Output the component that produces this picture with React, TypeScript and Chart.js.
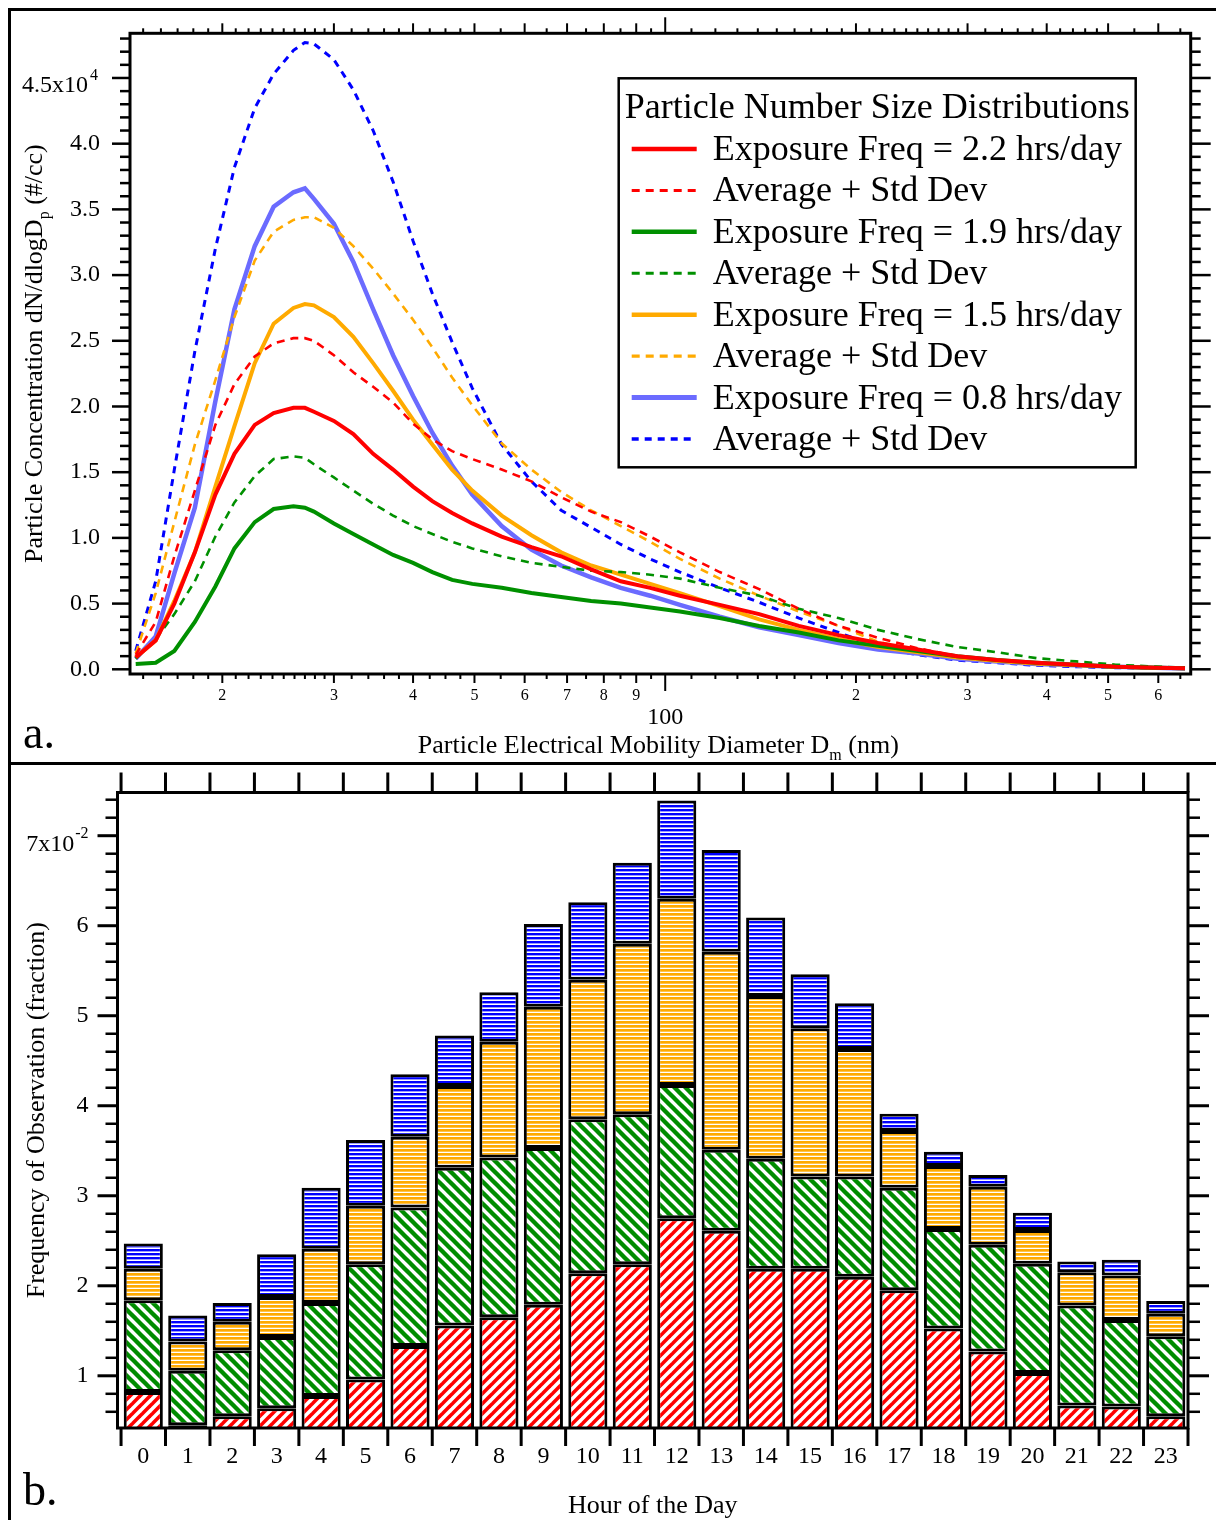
import React, { useEffect, useRef } from 'react';
import { Chart, registerables } from 'chart.js';

Chart.register(...registerables);

const FONT = '"Liberation Serif", "Times New Roman", serif';

// ---------------- Panel a: particle number size distributions ----------------
const diameters = [14.6, 15.7, 16.8, 18.1, 19.5, 20.9, 22.5, 24.1, 25.9, 27.0, 27.9, 30.0, 32.2, 34.6, 37.2, 40.0, 42.9, 46.1, 49.6, 55.2, 61.5, 68.5, 76.4, 85.1, 94.7, 105.5, 121.9, 140.7, 162.5, 187.7, 216.7, 250.3, 289.0, 333.8, 385.4, 445.1, 514.0, 593.5, 661.2];
const freq22 = [900, 2200, 5000, 8900, 13300, 16400, 18600, 19500, 19900, 19900, 19600, 18900, 17900, 16400, 15200, 13900, 12800, 11900, 11100, 10100, 9300, 8600, 7600, 6700, 6200, 5600, 4900, 4200, 3300, 2600, 2000, 1500, 1000, 700, 500, 350, 200, 120, 80];
const freq22Sd = [1100, 3600, 8600, 13600, 18600, 21700, 23800, 24800, 25200, 25200, 25000, 23900, 22600, 21500, 20300, 18700, 17500, 16600, 16000, 15200, 14300, 13100, 12000, 11200, 10100, 8900, 7400, 6100, 4600, 3300, 2400, 1600, 1000, 700, 500, 300, 200, 120, 80];
const freq19 = [400, 500, 1400, 3600, 6300, 9200, 11200, 12200, 12400, 12300, 12000, 11100, 10300, 9500, 8700, 8100, 7400, 6800, 6500, 6200, 5800, 5500, 5200, 5000, 4700, 4400, 3900, 3300, 2800, 2200, 1800, 1400, 1000, 700, 500, 350, 200, 120, 80];
const freq19Sd = [800, 2300, 4200, 6700, 10100, 12700, 14700, 16000, 16200, 16100, 15600, 14600, 13600, 12600, 11700, 10900, 10300, 9700, 9200, 8600, 8100, 7800, 7500, 7400, 7200, 6900, 6200, 5600, 4600, 3900, 3000, 2300, 1700, 1300, 850, 600, 350, 200, 120];
const freq15 = [900, 2200, 5200, 8900, 13900, 18500, 23300, 26300, 27500, 27800, 27700, 26800, 25300, 23300, 21200, 19000, 17100, 15200, 13600, 11700, 10200, 8900, 7900, 7200, 6500, 5800, 4800, 3800, 3000, 2300, 1700, 1300, 900, 650, 450, 330, 200, 120, 80];
const freq15Sd = [1200, 5800, 11200, 17100, 22000, 26800, 31100, 33300, 34200, 34400, 34400, 33600, 32200, 30500, 28600, 26600, 24500, 22200, 20100, 17200, 15200, 13500, 12100, 10900, 9700, 8400, 6900, 5600, 4400, 3300, 2100, 1400, 900, 600, 400, 250, 150, 100, 70];
const freq08 = [800, 2500, 7300, 12300, 20400, 27400, 32200, 35200, 36300, 36600, 35800, 33900, 31000, 27400, 23900, 20800, 18000, 15500, 13300, 10900, 9100, 7900, 7000, 6200, 5600, 4900, 4000, 3200, 2600, 2000, 1500, 1200, 800, 600, 400, 300, 200, 120, 60];
const freq08Sd = [1400, 6700, 15200, 24200, 32000, 38200, 42700, 45300, 47100, 47700, 47600, 46400, 44100, 41000, 37100, 32600, 28600, 24900, 21400, 17100, 14300, 12100, 10800, 9500, 8400, 7400, 6200, 5100, 3900, 2800, 1700, 1100, 700, 500, 300, 200, 120, 80, 50];

const seriesLabelsA = ['Exposure Freq = 2.2 hrs/day', 'Average + Std Dev', 'Exposure Freq = 1.9 hrs/day', 'Average + Std Dev', 'Exposure Freq = 1.5 hrs/day', 'Average + Std Dev', 'Exposure Freq = 0.8 hrs/day', 'Average + Std Dev'];
const legendTitleA = 'Particle Number Size Distributions';

// axis ticks of panel a
const xLabelTicksA = [20, 30, 40, 50, 60, 70, 80, 90, 100, 200, 300, 400, 500, 600];
const xMinorTicksA = [15, 16, 17, 18, 19, 21, 22, 23, 24, 25, 26, 27, 28, 29, 32, 34, 36, 38, 42.5, 45, 47.5, 55, 65, 75, 85, 95, 110, 120, 130, 140, 150, 160, 170, 180, 190, 210, 220, 230, 240, 250, 260, 270, 280, 290, 320, 340, 360, 380, 420, 440, 460, 480, 550, 650];
const yLabelTicksA = [0, 5000, 10000, 15000, 20000, 25000, 30000, 35000, 40000, 45000];
const yMinorTicksA: number[] = [];
for (let k = 1; k <= 48; k++) if (k % 5 !== 0) yMinorTicksA.push(k * 1000);

// ---------------- Panel b: hour-of-day frequency ----------------
const hours = [0, 1, 2, 3, 4, 5, 6, 7, 8, 9, 10, 11, 12, 13, 14, 15, 16, 17, 18, 19, 20, 21, 22, 23];
const obs22 = [0.0082, 0.0045, 0.0055, 0.0064, 0.00775, 0.0096, 0.0133, 0.0156, 0.0165, 0.0179, 0.0214, 0.0224, 0.0275, 0.0261, 0.0219, 0.0219, 0.0210, 0.0195, 0.01525, 0.0127, 0.0103, 0.0067, 0.0066, 0.0055];
const obs19 = [0.0102, 0.00605, 0.00735, 0.0079, 0.01035, 0.0128, 0.0154, 0.0175, 0.01775, 0.0174, 0.0171, 0.01665, 0.0148, 0.0090, 0.0122, 0.01025, 0.01115, 0.0114, 0.01105, 0.01185, 0.01215, 0.0111, 0.0096, 0.0089];
const obs15 = [0.0035, 0.00325, 0.00315, 0.00445, 0.0060, 0.0065, 0.00785, 0.0091, 0.01285, 0.0157, 0.0155, 0.01895, 0.0207, 0.0220, 0.0181, 0.01645, 0.01415, 0.0063, 0.0070, 0.00645, 0.00375, 0.0037, 0.00495, 0.0025];
const obs08 = [0.0028, 0.0029, 0.0021, 0.00475, 0.0068, 0.0073, 0.00695, 0.0056, 0.0055, 0.0092, 0.0086, 0.0090, 0.0109, 0.0113, 0.0087, 0.0060, 0.0051, 0.0019, 0.0016, 0.0013, 0.0019, 0.0012, 0.00175, 0.0014];
const barLabelsB = ['Exposure Freq = 2.2 hrs/day', 'Exposure Freq = 1.9 hrs/day', 'Exposure Freq = 1.5 hrs/day', 'Exposure Freq = 0.8 hrs/day'];

const yLabelTicksB = [0.01, 0.02, 0.03, 0.04, 0.05, 0.06, 0.07];
const yMinorTicksB: number[] = [];
for (let k = 6; k <= 74; k += 2) if (k % 10 !== 0) yMinorTicksB.push(k / 1000);
const xBoundsB = hours.map((h) => h - 0.5).concat([23.5]);

// ---------------- helpers ----------------
type Part = { t: string; s?: 'sub' | 'sup' };
function drawRich(ctx: CanvasRenderingContext2D, parts: Part[], px: number, py: number, size: number, rotate: boolean) {
  ctx.save();
  ctx.translate(px, py);
  if (rotate) ctx.rotate(-Math.PI / 2);
  const f = (p: Part) => `${p.s ? Math.round(size * 0.62) : size}px ${FONT}`;
  let total = 0;
  const ws = parts.map((p) => { ctx.font = f(p); const w = ctx.measureText(p.t).width; total += w; return w; });
  let xx = -total / 2;
  ctx.textAlign = 'left';
  ctx.textBaseline = 'alphabetic';
  ctx.fillStyle = '#000';
  parts.forEach((p, i) => {
    ctx.font = f(p);
    const dy = p.s === 'sub' ? size * 0.28 : p.s === 'sup' ? -size * 0.42 : 0;
    ctx.fillText(p.t, xx, dy);
    xx += ws[i];
  });
  ctx.restore();
}
function seg(ctx: CanvasRenderingContext2D, x1: number, y1: number, x2: number, y2: number) {
  ctx.beginPath(); ctx.moveTo(x1, y1); ctx.lineTo(x2, y2); ctx.stroke();
}
function diagPattern(color: string, size: number, lw: number, forward: boolean) {
  const c = document.createElement('canvas'); c.width = size; c.height = size;
  const g = c.getContext('2d')!;
  g.fillStyle = '#fff'; g.fillRect(0, 0, size, size);
  g.strokeStyle = color; g.lineWidth = lw;
  for (const k of [-1, 0, 1, 2]) {
    g.beginPath();
    if (forward) { g.moveTo(k * size + size, -size); g.lineTo(k * size - 2 * size, 2 * size); }
    else { g.moveTo(k * size - size, -size); g.lineTo(k * size + 2 * size, 2 * size); }
    g.stroke();
  }
  return g.createPattern(c, 'repeat')!;
}
function horizPattern(color: string, period: number, band: number) {
  const c = document.createElement('canvas'); c.width = 8; c.height = period;
  const g = c.getContext('2d')!;
  g.fillStyle = '#fff'; g.fillRect(0, 0, 8, period);
  g.fillStyle = color; g.fillRect(0, 0, 8, band);
  return g.createPattern(c, 'repeat')!;
}

function makeChartA(canvas: HTMLCanvasElement) {
  const styles = [
    { c: '#ff0000', w: 4, d: [] as number[] },
    { c: '#ff0000', w: 2.6, d: [8, 6] },
    { c: '#009000', w: 4, d: [] },
    { c: '#009000', w: 2.6, d: [8, 6] },
    { c: '#ffaa00', w: 4, d: [] },
    { c: '#ffaa00', w: 2.6, d: [8, 6] },
    { c: '#6b6bff', w: 4.5, d: [] },
    { c: '#0000ff', w: 3, d: [7, 6] },
  ];
  const values = [freq22, freq22Sd, freq19, freq19Sd, freq15, freq15Sd, freq08, freq08Sd];
  const datasets = values.map((vals, i) => ({
    label: seriesLabelsA[i],
    data: diameters.map((d, j) => ({ x: d, y: vals[j] })),
    borderColor: styles[i].c,
    borderWidth: styles[i].w,
    borderDash: styles[i].d,
    pointRadius: 0,
    tension: 0,
    fill: false,
  }));

  const decor = {
    id: 'decorA',
    afterDraw(chart: any) {
      const { ctx, chartArea: ca } = chart;
      const xs = chart.scales.x, ys = chart.scales.y;
      ctx.save();
      ctx.strokeStyle = '#000';
      ctx.lineWidth = 2.5;
      yLabelTicksA.forEach((v) => { const p = ys.getPixelForValue(v); seg(ctx, ca.left, p, ca.left - 18, p); seg(ctx, ca.right, p, ca.right + 20, p); });
      yMinorTicksA.forEach((v) => { const p = ys.getPixelForValue(v); seg(ctx, ca.left, p, ca.left - 10, p); seg(ctx, ca.right, p, ca.right + 10, p); });
      ctx.lineWidth = 2;
      xLabelTicksA.forEach((v) => { const p = xs.getPixelForValue(v); seg(ctx, p, ca.bottom, p, ca.bottom + (v === 100 ? 17 : 9)); seg(ctx, p, ca.top, p, ca.top - (v === 100 ? 16 : 10)); });
      xMinorTicksA.forEach((v) => { const p = xs.getPixelForValue(v); seg(ctx, p, ca.bottom, p, ca.bottom + 5); seg(ctx, p, ca.top, p, ca.top - 5); });
      ctx.lineWidth = 3;
      ctx.strokeRect(ca.left, ca.top, ca.right - ca.left, ca.bottom - ca.top);

      // top tick label with exponent
      const p45 = ys.getPixelForValue(45000);
      ctx.fillStyle = '#000';
      ctx.textAlign = 'right';
      ctx.textBaseline = 'alphabetic';
      ctx.font = `16px ${FONT}`;
      ctx.fillText('4', ca.left - 32, p45 + 2);
      ctx.font = `24px ${FONT}`;
      ctx.fillText('4.5x10', ca.left - 42, p45 + 14);

      // legend
      const bw = 517, bh = 389;
      const bx = ca.right - 55 - bw, by = ca.top + 45;
      ctx.fillStyle = '#fff';
      ctx.fillRect(bx, by, bw, bh);
      ctx.lineWidth = 2.5;
      ctx.strokeRect(bx, by, bw, bh);
      ctx.fillStyle = '#000';
      ctx.font = `36px ${FONT}`;
      ctx.textAlign = 'center';
      ctx.fillText(legendTitleA, bx + bw / 2, by + 40);
      ctx.textAlign = 'left';
      chart.data.datasets.forEach((ds: any, i: number) => {
        const ly = by + 70.7 + i * 41.43;
        ctx.save();
        ctx.strokeStyle = ds.borderColor;
        ctx.lineWidth = ds.borderWidth + 0.5;
        ctx.setLineDash(ds.borderDash || []);
        seg(ctx, bx + 13, ly, bx + 78, ly);
        ctx.restore();
        ctx.fillText(ds.label, bx + 94, ly + 11);
      });

      // axis titles
      drawRich(ctx, [{ t: 'Particle Concentration dN/dlogD' }, { t: 'p', s: 'sub' }, { t: ' (#/cc)' }], 31, (ca.top + ca.bottom) / 2, 26, true);
      drawRich(ctx, [{ t: 'Particle Electrical Mobility Diameter D' }, { t: 'm', s: 'sub' }, { t: ' (nm)' }], (ca.left + ca.right) / 2 - 2, 742, 26, false);

      // panel letter
      ctx.font = `46px ${FONT}`;
      ctx.textAlign = 'left';
      ctx.fillText('a.', 12, 737);
      ctx.restore();
    },
  };

  return new Chart(canvas, {
    type: 'line',
    data: { datasets } as any,
    options: {
      animation: false,
      responsive: false,
      devicePixelRatio: 1,
      events: [],
      layout: { padding: { left: 0, right: 25.3, top: 22.3, bottom: 0 } },
      plugins: { legend: { display: false }, tooltip: { enabled: false } },
      scales: {
        x: {
          type: 'logarithmic',
          min: 14.3,
          max: 675,
          grid: { display: false, drawTicks: true, tickLength: 12 },
          border: { display: false },
          afterBuildTicks: (s: any) => { s.ticks = xLabelTicksA.map((v) => ({ value: v })); },
          afterFit: (s: any) => { s.height = 88; },
          ticks: {
            autoSkip: false,
            maxRotation: 0,
            minRotation: 0,
            padding: 0,
            color: '#000',
            font: (c: any) => (c.tick && c.tick.value === 100 ? { family: FONT, size: 24, lineHeight: 0.87 } : { family: FONT, size: 16, lineHeight: 1.2 }),
            callback: (v: any) => {
              const n = Number(v);
              if (n === 100) return ['', '100'];
              return String(Math.round(n / Math.pow(10, Math.floor(Math.log10(n) + 1e-9))));
            },
          },
        },
        y: {
          type: 'linear',
          min: -358,
          max: 48400,
          grid: { display: false, drawTicks: true, tickLength: 30 },
          border: { display: false },
          afterBuildTicks: (s: any) => { s.ticks = yLabelTicksA.map((v) => ({ value: v })); },
          afterFit: (s: any) => { s.width = 119; },
          ticks: {
            padding: 0,
            color: '#000',
            font: { family: FONT, size: 24 },
            callback: (v: any) => (Number(v) === 45000 ? '' : (Number(v) / 10000).toFixed(1)),
          },
        },
      },
    } as any,
    plugins: [decor],
  });
}

function makeChartB(canvas: HTMLCanvasElement) {
  const fills = [
    diagPattern('#ff0000', 10, 3.6, true),
    diagPattern('#008c00', 11, 4.4, false),
    horizPattern('#ffaa00', 4, 2.7),
    horizPattern('#0000ff', 4, 2.4),
  ];
  const values = [obs22, obs19, obs15, obs08];
  const datasets = values.map((vals, i) => ({
    label: barLabelsB[i],
    data: hours.map((h, j) => ({ x: h, y: vals[j] })),
    backgroundColor: fills[i],
    borderColor: '#000',
    borderWidth: 3,
    borderSkipped: false,
    barPercentage: 0.88,
    categoryPercentage: 1,
    clip: 0,
  }));

  const decor = {
    id: 'decorB',
    afterDraw(chart: any) {
      const { ctx, chartArea: ca } = chart;
      const xs = chart.scales.x, ys = chart.scales.y;
      ctx.save();
      ctx.strokeStyle = '#000';
      ctx.lineWidth = 3;
      yLabelTicksB.forEach((v) => { const p = ys.getPixelForValue(v); seg(ctx, ca.left, p, ca.left - 20, p); seg(ctx, ca.right, p, ca.right + 21, p); });
      ctx.lineWidth = 2.5;
      yMinorTicksB.forEach((v) => { const p = ys.getPixelForValue(v); seg(ctx, ca.left, p, ca.left - 12, p); seg(ctx, ca.right, p, ca.right + 12, p); });
      ctx.lineWidth = 3;
      xBoundsB.forEach((v) => { const p = xs.getPixelForValue(v); seg(ctx, p, ca.bottom, p, ca.bottom + 18); seg(ctx, p, ca.top, p, ca.top - 20); });
      ctx.strokeRect(ca.left, ca.top, ca.right - ca.left, ca.bottom - ca.top);

      const p7 = ys.getPixelForValue(0.07);
      ctx.fillStyle = '#000';
      ctx.textAlign = 'right';
      ctx.textBaseline = 'alphabetic';
      ctx.font = `16px ${FONT}`;
      ctx.fillText('-2', ca.left - 29, p7 + 2);
      const supW = ctx.measureText('-2').width;
      ctx.font = `24px ${FONT}`;
      ctx.fillText('7x10', ca.left - 30 - supW, p7 + 15);

      drawRich(ctx, [{ t: 'Frequency of Observation (fraction)' }], 33, (ca.top + ca.bottom) / 2, 26, true);
      drawRich(ctx, [{ t: 'Hour of the Day' }], (ca.left + ca.right) / 2, 748, 26, false);

      ctx.font = `46px ${FONT}`;
      ctx.textAlign = 'left';
      ctx.fillText('b.', 12, 740);
      ctx.restore();
    },
  };

  return new Chart(canvas, {
    type: 'bar',
    data: { datasets } as any,
    options: {
      animation: false,
      responsive: false,
      devicePixelRatio: 1,
      events: [],
      layout: { padding: { left: 0, right: 28, top: 27.5, bottom: 0 } },
      plugins: { legend: { display: false }, tooltip: { enabled: false } },
      scales: {
        x: {
          type: 'linear',
          offset: false,
          stacked: true,
          min: -0.58,
          max: 23.5,
          grid: { display: false, drawTicks: true, tickLength: 14 },
          border: { display: false },
          afterBuildTicks: (s: any) => { s.ticks = hours.map((h) => ({ value: h })); },
          afterFit: (s: any) => { s.height = 92; },
          ticks: {
            autoSkip: false,
            maxRotation: 0,
            minRotation: 0,
            padding: 0,
            color: '#000',
            font: { family: FONT, size: 24 },
            callback: (v: any) => String(Math.round(Number(v))),
          },
        },
        y: {
          type: 'linear',
          stacked: true,
          min: 0.0042,
          max: 0.0748,
          grid: { display: false, drawTicks: true, tickLength: 29 },
          border: { display: false },
          afterBuildTicks: (s: any) => { s.ticks = yLabelTicksB.map((v) => ({ value: v })); },
          afterFit: (s: any) => { s.width = 106.5; },
          ticks: {
            padding: 0,
            color: '#000',
            font: { family: FONT, size: 24 },
            callback: (v: any) => { const n = Math.round(Number(v) * 100); return n === 7 ? '' : String(n); },
          },
        },
      },
    } as any,
    plugins: [decor],
  });
}

export default function App() {
  const refA = useRef<HTMLCanvasElement>(null);
  const refB = useRef<HTMLCanvasElement>(null);
  useEffect(() => {
    const a = makeChartA(refA.current!);
    const b = makeChartB(refB.current!);
    return () => { a.destroy(); b.destroy(); };
  }, []);
  return (
    <div style={{ width: 1216 }}>
      <style>{'html,body{overflow:hidden;}'}</style>
      <div style={{ borderLeft: '3px solid #000', borderTop: '3px solid #000', borderBottom: '3px solid #000', height: 751 }}>
        <canvas ref={refA} width={1205} height={751} style={{ display: 'block', width: 1205, height: 751 }} />
      </div>
      <div style={{ borderLeft: '3px solid #000', height: 755 }}>
        <canvas ref={refB} width={1205} height={755} style={{ display: 'block', width: 1205, height: 755 }} />
      </div>
    </div>
  );
}
